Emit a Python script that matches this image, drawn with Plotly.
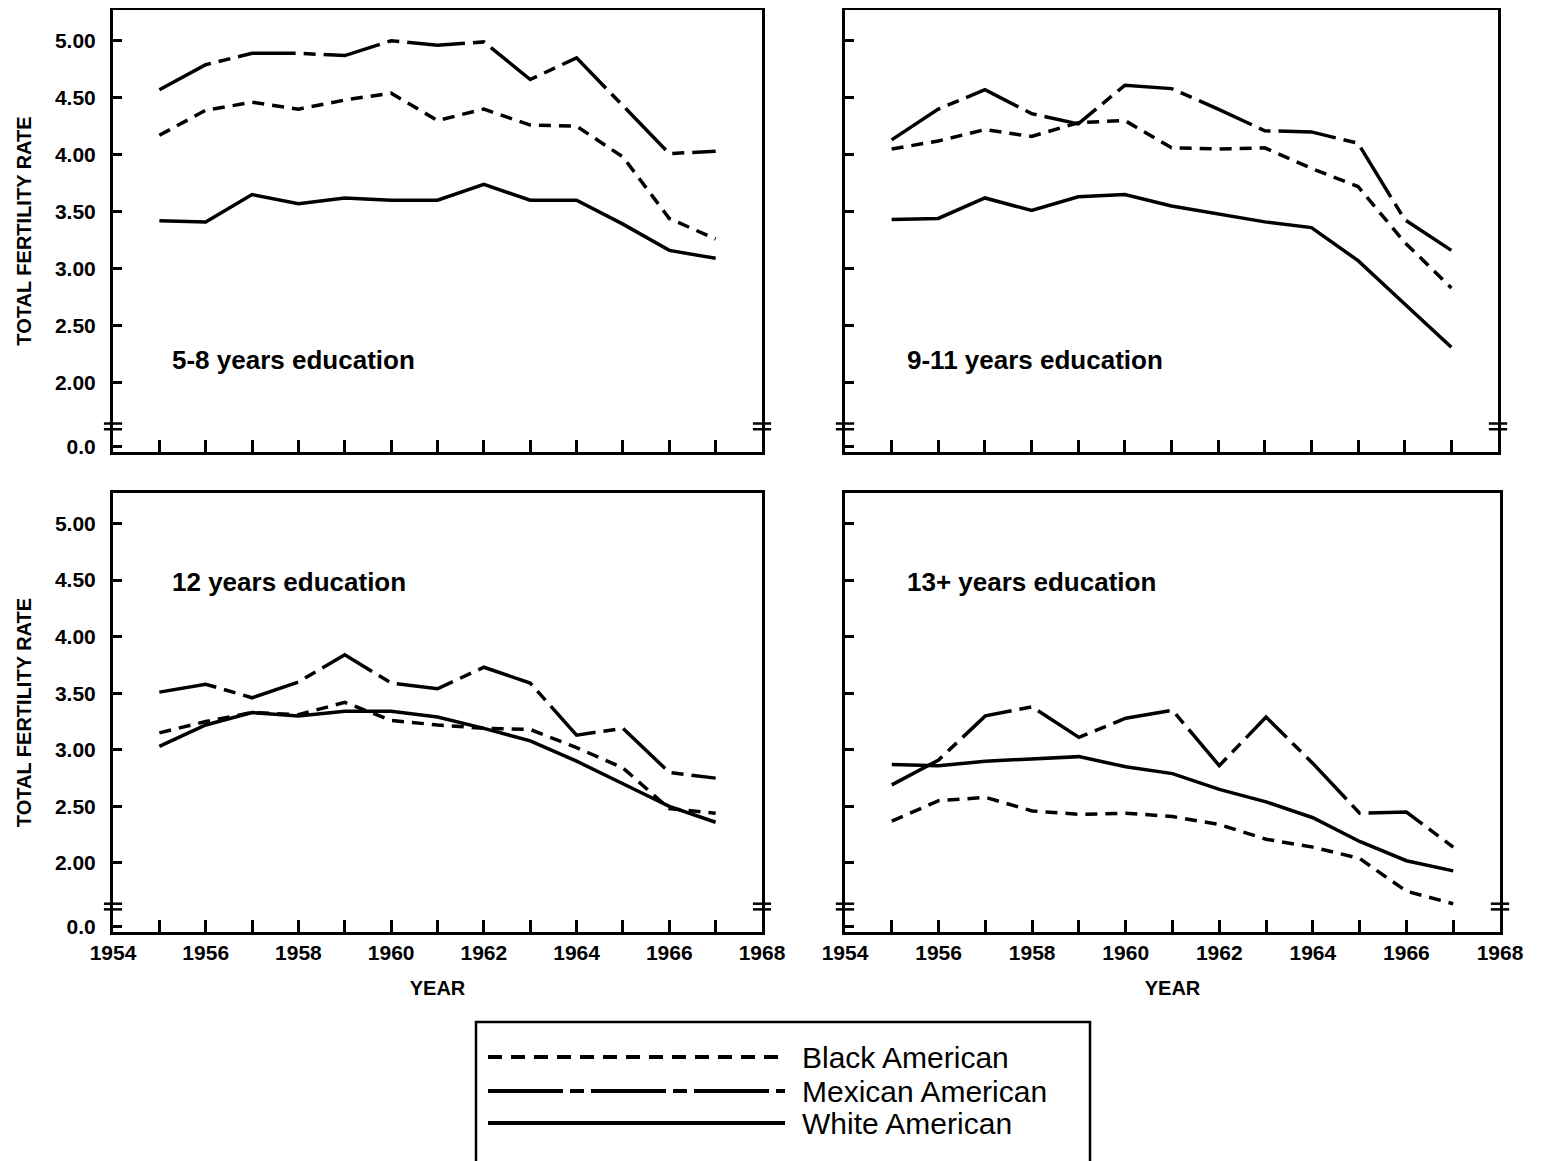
import plotly.graph_objects as go

# ---------------- data ----------------
years = [1955, 1956, 1957, 1958, 1959, 1960, 1961, 1962, 1963, 1964, 1965, 1966, 1967]

black_5_8 = [4.17, 4.39, 4.46, 4.40, 4.48, 4.54, 4.30, 4.40, 4.26, 4.25, 3.98, 3.44, 3.26]
mex_5_8 = [4.57, 4.79, 4.89, 4.89, 4.87, 5.00, 4.96, 4.99, 4.66, 4.85, 4.43, 4.01, 4.03]
white_5_8 = [3.42, 3.41, 3.65, 3.57, 3.62, 3.60, 3.60, 3.74, 3.60, 3.60, 3.39, 3.16, 3.09]

black_9_11 = [4.05, 4.12, 4.22, 4.16, 4.28, 4.30, 4.06, 4.05, 4.06, 3.88, 3.72, 3.23, 2.83]
mex_9_11 = [4.13, 4.40, 4.57, 4.36, 4.27, 4.61, 4.58, 4.40, 4.21, 4.20, 4.10, 3.43, 3.16]
white_9_11 = [3.43, 3.44, 3.62, 3.51, 3.63, 3.65, 3.55, 3.48, 3.41, 3.36, 3.07, 2.69, 2.31]

black_12 = [3.15, 3.25, 3.33, 3.31, 3.42, 3.26, 3.22, 3.19, 3.18, 3.02, 2.84, 2.48, 2.44]
mex_12 = [3.51, 3.58, 3.46, 3.60, 3.84, 3.59, 3.54, 3.73, 3.59, 3.13, 3.19, 2.80, 2.75]
white_12 = [3.03, 3.22, 3.33, 3.30, 3.34, 3.34, 3.29, 3.19, 3.08, 2.90, 2.70, 2.50, 2.36]

black_13 = [2.37, 2.55, 2.58, 2.46, 2.43, 2.44, 2.41, 2.34, 2.21, 2.14, 2.04, 1.75, 1.64]
mex_13 = [2.69, 2.91, 3.30, 3.38, 3.11, 3.28, 3.35, 2.86, 3.29, 2.88, 2.44, 2.45, 2.14]
white_13 = [2.87, 2.86, 2.90, 2.92, 2.94, 2.85, 2.79, 2.65, 2.54, 2.40, 2.19, 2.02, 1.93]

panel_labels = ["5-8 years education", "9-11 years education",
                "12 years education", "13+ years education"]
series_names = ["Black American", "Mexican American", "White American"]

y_tick_vals = [1.44, 2.0, 2.5, 3.0, 3.5, 4.0, 4.5, 5.0]
y_tick_text = ["0.0", "2.00", "2.50", "3.00", "3.50", "4.00", "4.50", "5.00"]
x_label_vals = [1954, 1956, 1958, 1960, 1962, 1964, 1966, 1968]
x_label_text = ["1954", "1956", "1958", "1960", "1962", "1964", "1966", "1968"]
x_minor_vals = [1955, 1957, 1959, 1961, 1963, 1965, 1967]

# ---------------- styling ----------------
W, H = 1545, 1161
OFF = 8  # page body margin
FONT = "Liberation Sans, Arial, Helvetica, sans-serif"
DASH_BLACK = "12px,8px"
DASH_MEX = "58px,8px,12px,8px"


def fx(px):
    return (px - OFF) / W


def fy(py):
    return 1 - (py - OFF) / H


panels = [
    dict(data=(black_5_8, mex_5_8, white_5_8), x=(113, 762), y=(10, 452), lab=(1955.23, 2.20)),
    dict(data=(black_9_11, mex_9_11, white_9_11), x=(845, 1498), y=(10, 452), lab=(1955.29, 2.20)),
    dict(data=(black_12, mex_12, white_12), x=(113, 762), y=(493, 932), lab=(1955.23, 4.48)),
    dict(data=(black_13, mex_13, white_13), x=(845, 1500), y=(493, 932), lab=(1955.29, 4.48)),
]

fig = go.Figure()
shapes = []
annotations = []

for i, p in enumerate(panels):
    n = i + 1
    xa = "x" if n == 1 else f"x{n}"
    ya = "y" if n == 1 else f"y{n}"
    dashes = [DASH_BLACK, DASH_MEX, "solid"]
    for vals, dash, name in zip(p["data"], dashes, series_names):
        fig.add_trace(go.Scatter(
            x=years, y=vals, mode="lines", name=name, showlegend=False,
            line=dict(color="black", width=3.5, dash=dash),
            xaxis=xa, yaxis=ya, hoverinfo="skip"))

    bottom = n in (3, 4)
    left = n in (1, 3)
    xdom = [fx(p["x"][0]), fx(p["x"][1])]
    ydom = [fy(p["y"][1]), fy(p["y"][0])]

    xax = dict(
        domain=xdom, anchor=ya, range=[1954, 1968],
        showline=True, linewidth=3, linecolor="black", mirror=True,
        showgrid=False, zeroline=False,
        tickmode="array", tickvals=x_label_vals, ticktext=x_label_text,
        ticks="inside", ticklen=12, tickwidth=2.5, tickcolor="black",
        minor=dict(tickmode="array", tickvals=x_minor_vals, ticks="inside",
                   ticklen=12, tickwidth=2.5, tickcolor="black", showgrid=False),
        showticklabels=bottom,
        tickfont=dict(family=FONT, size=21, color="black", weight="bold"),
        automargin=False,
    )
    if bottom:
        xax["title"] = dict(text="YEAR", standoff=18,
                            font=dict(family=FONT, size=20, color="black", weight="bold"))
    yax = dict(
        domain=ydom, anchor=xa, range=[1.39, 5.27],
        showline=True, linewidth=3, linecolor="black", mirror=True,
        showgrid=False, zeroline=False,
        tickmode="array", tickvals=y_tick_vals, ticktext=y_tick_text,
        ticks="inside", ticklen=9, tickwidth=2.5, tickcolor="black",
        showticklabels=left, ticklabelstandoff=10,
        tickfont=dict(family=FONT, size=21, color="black", weight="bold"),
        automargin=False,
    )
    if left:
        yax["title"] = dict(text="TOTAL FERTILITY RATE", standoff=18,
                            font=dict(family=FONT, size=20, color="black", weight="bold"))
    fig.update_layout({("xaxis" if n == 1 else f"xaxis{n}"): xax,
                       ("yaxis" if n == 1 else f"yaxis{n}"): yax})

    # axis break marks on both vertical axes
    for side in (0.0, 1.0):
        for yb in (1.59, 1.64):
            shapes.append(dict(type="line", xref=f"{xa} domain", yref=ya,
                               x0=side - 0.014, x1=side + 0.014, y0=yb, y1=yb,
                               line=dict(color="black", width=2.5)))

    annotations.append(dict(text=panel_labels[i], xref=xa, yref=ya,
                            x=p["lab"][0], y=p["lab"][1], xanchor="left", yanchor="middle",
                            showarrow=False,
                            font=dict(family=FONT, size=26, color="black", weight="bold")))

# ---------------- manual legend ----------------
lx0, lx1, ly0 = 476, 1090, 1022
shapes.append(dict(type="rect", xref="paper", yref="paper",
                   x0=fx(lx0), x1=fx(lx1), y0=-0.02, y1=fy(ly0),
                   line=dict(color="black", width=2.5), fillcolor="rgba(0,0,0,0)"))
leg_y = [1057, 1091, 1123]
leg_dash = ["14px,9px", "75px,7px,14px,7px", "solid"]
for name, yy, dash in zip(series_names, leg_y, leg_dash):
    shapes.append(dict(type="line", xref="paper", yref="paper",
                       x0=fx(488), x1=fx(785), y0=fy(yy), y1=fy(yy),
                       line=dict(color="black", width=4, dash=dash)))
    annotations.append(dict(text=name, xref="paper", yref="paper",
                            x=fx(800), y=fy(yy), xanchor="left", yanchor="middle",
                            showarrow=False,
                            font=dict(family=FONT, size=30, color="black")))

fig.update_layout(
    width=W, height=H,
    margin=dict(l=0, r=0, t=0, b=0),
    paper_bgcolor="white", plot_bgcolor="white",
    shapes=shapes, annotations=annotations,
    showlegend=False,
)

fig.write_html("out.html")
